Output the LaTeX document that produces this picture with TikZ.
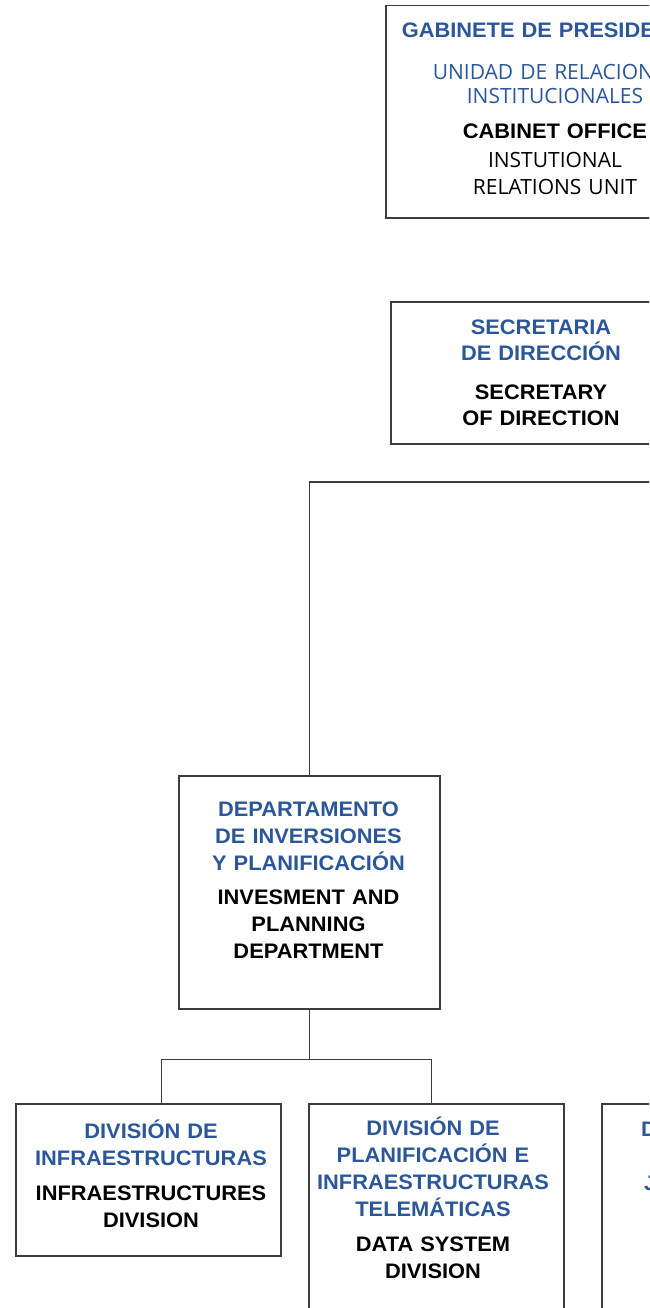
\documentclass[tikz,border=0pt]{standalone}
\usepackage{fontspec}
\setmainfont{Liberation Sans}[FakeStretch=1.04]
\newfontfamily\plainfont{Open Sans}
\usetikzlibrary{calc,positioning}
\definecolor{unitblue}{RGB}{43,87,154}
\definecolor{linegray}{RGB}{60,60,60}

\begin{document}
\begin{tikzpicture}[x=1pt,y=-1pt,
    unitbox/.style={draw=linegray,line width=1.5pt,anchor=north west,inner sep=0pt},
    unittext/.style={anchor=base,text width=#1,align=center,inner sep=0pt,
        font=\fontsize{21}{27}\selectfont\bfseries},
    link/.style={draw=linegray,line width=1.5pt}]
\useasboundingbox (0,0) rectangle (649,1308);
\clip (0,0) rectangle (649,1308);

% boxes
\node[unitbox,minimum width=340pt,minimum height=212pt] (cabinet) at (385,5) {};
\node[unitbox,minimum width=302pt,minimum height=142pt] (secretary) at (390,301) {};
\node[unitbox,minimum width=261pt,minimum height=233pt] (dept) at (178,775) {};
\node[unitbox,minimum width=265pt,minimum height=152pt] (infra) at (15,1103) {};
\node[unitbox,minimum width=255pt,minimum height=260pt] (plan) at (308,1103) {};
\node[unitbox,minimum width=255pt,minimum height=260pt] (third) at (601,1103) {};

% texts
\node[unittext=320pt] (cabinet-txt) at (555,37.5)
    {{\color{unitblue}GABINETE DE PRESIDENCIA\\[15pt]
    \plainfont\mdseries UNIDAD DE RELACIONES\\[-3pt] INSTITUCIONALES}\\[8pt]
    CABINET OFFICE\\[2pt]
    {\plainfont\mdseries INSTUTIONAL\\ RELATIONS UNIT}};
\node[unittext=290pt] (secretary-txt) at (541,334.5)
    {{\color{unitblue}SECRETARIA\\[-1pt] DE DIRECCIÓN}\\[12pt]
    SECRETARY\\[-1pt] OF DIRECTION};
\node[unittext=250pt] (dept-txt) at (308.5,816.5)
    {{\color{unitblue}DEPARTAMENTO\\DE INVERSIONES\\Y PLANIFICACIÓN}\\[7pt]
    INVESMENT AND\\PLANNING\\DEPARTMENT};
\node[unittext=255pt] (infra-txt) at (151,1138.5)
    {{\color{unitblue}DIVISIÓN DE\\INFRAESTRUCTURAS}\\[8pt]
    INFRAESTRUCTURES\\DIVISION};
\node[unittext=250pt] (plan-txt) at (433,1135.5)
    {{\color{unitblue}DIVISIÓN DE\\PLANIFICACIÓN E\\INFRAESTRUCTURAS\\TELEMÁTICAS}\\[8pt]
    DATA SYSTEM\\DIVISION};
\node[unittext=40pt,anchor=base west,align=left,text=unitblue] (third-l1) at (641,1136.5) {D};
\node[unittext=40pt,anchor=base west,align=left,text=unitblue] (third-l3) at (644,1190.5) {J};

% connectors
\coordinate (trunk) at (660,482);
\coordinate (fork) at ($(dept.south)+(0,50)$);
\draw[link] (dept.north) |- (trunk);
\draw[link] (dept.south) -- (fork);
\draw[link] (fork) -| ([xshift=13pt]infra.north);
\draw[link] (fork) -| ([xshift=-5pt]plan.north);
\end{tikzpicture}
\end{document}
